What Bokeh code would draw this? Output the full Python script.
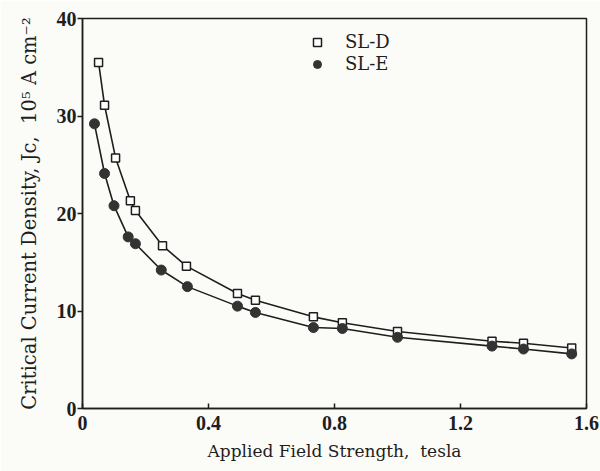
from bokeh.plotting import figure
from bokeh.models import Legend, LegendItem, FixedTicker
from bokeh.embed import file_html
from bokeh.resources import INLINE

# SL-D (open squares)
sld_field = [0.051, 0.070, 0.105, 0.152, 0.168, 0.254, 0.330, 0.492, 0.549, 0.733, 0.825, 1.000, 1.300, 1.400, 1.553]
sld_jc = [35.5, 31.1, 25.7, 21.3, 20.3, 16.7, 14.6, 11.8, 11.1, 9.4, 8.8, 7.9, 6.9, 6.7, 6.2]
# SL-E (filled circles)
sle_field = [0.038, 0.070, 0.100, 0.145, 0.168, 0.250, 0.333, 0.492, 0.549, 0.733, 0.825, 1.000, 1.300, 1.400, 1.553]
sle_jc = [29.2, 24.1, 20.8, 17.6, 16.9, 14.2, 12.5, 10.5, 9.85, 8.3, 8.2, 7.3, 6.4, 6.1, 5.6]

x_ticks = [0, 0.4, 0.8, 1.2, 1.6]
y_ticks = [0, 10, 20, 30, 40]

FONT = "DejaVu Serif"
TICKFONT = "Liberation Serif"
INK = "#1e1e1e"
BG = "#fbfbf8"

p = figure(width=600, height=471, output_backend="svg", toolbar_location=None,
           x_range=(0, 1.6), y_range=(0, 40),
           min_border_left=82, min_border_right=14, min_border_top=18, min_border_bottom=63)
p.background_fill_color = BG
p.border_fill_color = BG
p.outline_line_color = INK
p.outline_line_width = 1.5
p.grid.visible = False

p.line(sld_field, sld_jc, line_color=INK, line_width=1.6)
p.line(sle_field, sle_jc, line_color=INK, line_width=1.6)
r_d = p.scatter(sld_field, sld_jc, marker="square", size=8, fill_color="white", line_color=INK, line_width=1.5)
r_e = p.scatter(sle_field, sle_jc, marker="circle", size=10, fill_color="#333333", line_color="#333333")

legend = Legend(items=[LegendItem(label="SL-D", renderers=[r_d]),
                       LegendItem(label="SL-E", renderers=[r_e])],
                location=(225, 334))
legend.background_fill_alpha = 0
legend.border_line_alpha = 0
legend.label_text_font = FONT
legend.label_text_font_size = "18px"
legend.label_text_color = INK
legend.glyph_width = 20
legend.glyph_height = 20
legend.label_height = 20
legend.spacing = 1
legend.padding = 0
legend.margin = 0
legend.label_standoff = 18
p.add_layout(legend)

for ax in (p.xaxis[0], p.yaxis[0]):
    ax.axis_line_color = INK
    ax.axis_line_width = 1.5
    ax.major_tick_line_color = INK
    ax.major_tick_line_width = 1.5
    ax.minor_tick_line_color = None
    ax.major_label_text_font = TICKFONT
    ax.major_label_text_font_size = "20px"
    ax.major_label_text_color = INK
    ax.major_label_text_font_style = "bold"
    ax.axis_label_text_font = FONT
    ax.axis_label_text_font_style = "normal"
    ax.axis_label_text_color = INK

p.xaxis[0].ticker = FixedTicker(ticks=x_ticks)
p.xaxis[0].major_label_overrides = {0: "0", 0.4: "0.4", 0.8: "0.8", 1.2: "1.2", 1.6: "1.6"}
p.xaxis[0].major_tick_in = 5
p.xaxis[0].major_tick_out = 0
p.xaxis[0].major_label_standoff = 7
p.xaxis[0].axis_label = "Applied Field Strength,\u00a0\u00a0tesla"
p.xaxis[0].axis_label_text_font_size = "17px"
p.xaxis[0].axis_label_standoff = 8

p.yaxis[0].ticker = FixedTicker(ticks=y_ticks)
p.yaxis[0].major_tick_in = 0
p.yaxis[0].major_tick_out = 5
p.yaxis[0].major_label_standoff = 1
p.yaxis[0].axis_label = "Critical Current Density, Jc,\u00a0\u00a010⁵ A cm⁻²"
p.yaxis[0].axis_label_text_font_size = "19.5px"
p.yaxis[0].axis_label_standoff = 13

open("out.html", "w").write(file_html(p, INLINE))
